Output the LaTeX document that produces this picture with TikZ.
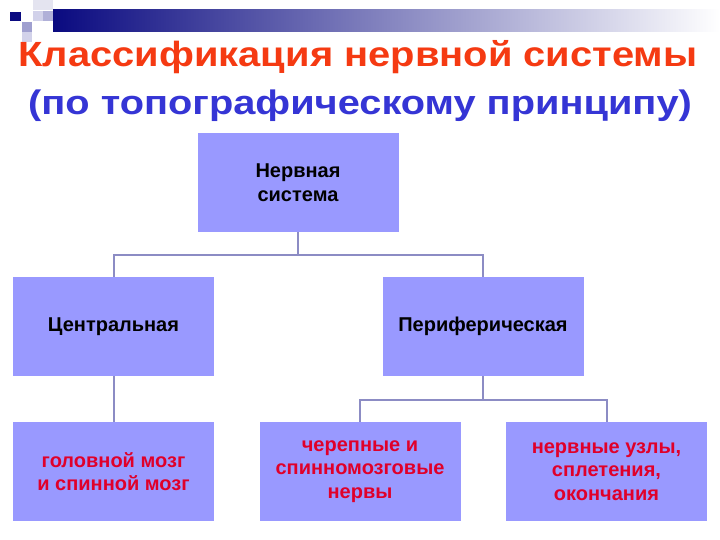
\documentclass[tikz,border=0pt]{standalone}
\usepackage{graphicx}
\usepackage{fontspec}
\setmainfont{Liberation Sans}
\definecolor{boxfill}{HTML}{9999FF}
\definecolor{linec}{HTML}{8C8CC4}
\definecolor{titlered}{HTML}{F53A12}
\definecolor{subblue}{HTML}{3535D5}
\definecolor{txtred}{HTML}{E0002A}
\definecolor{navy}{HTML}{0A0A80}
\definecolor{sqa}{HTML}{E4E4F0}
\definecolor{sqb}{HTML}{D2D2EA}
\definecolor{sqc}{HTML}{B0B0D8}
\definecolor{sqd}{HTML}{A0A0D0}
\tikzset{
  box/.style={fill=boxfill, draw=none, minimum width=201pt, minimum height=99pt,
    align=center, font=\fontsize{20}{23.5}\selectfont\bfseries, inner sep=0pt},
  redtxt/.style={text=txtred},
  conn/.style={draw=linec, line width=2pt},
}
\begin{document}
\begin{tikzpicture}[x=1pt,y=-1pt]
\useasboundingbox[fill=white] (0,0) rectangle (720,540);
% top decoration
\shade[left color=navy, right color=white, shading angle=90] (53,10) rectangle (720,32);
\fill[navy] (10,12) rectangle (21,21);
\fill[sqa] (33,0) rectangle (53,10);
\fill[sqb] (33,11) rectangle (43,21);
\fill[sqc] (43,11) rectangle (53,21);
\fill[sqd] (22,22) rectangle (32,32);
\fill[sqb] (22,32) rectangle (32,42);
% titles
\node[anchor=base, inner sep=0pt, font=\fontsize{35}{40}\selectfont\bfseries, text=titlered] (title) at (358,67) {\scalebox{1.14}[1]{Классификация нервной системы}};
\node[anchor=base, inner sep=0pt, font=\fontsize{34}{38}\selectfont\bfseries, text=subblue] (subtitle) at (360,115) {\scalebox{1.17}[1]{(по топографическому принципу)}};
% boxes
\node[box] (ns) at (298,182.5) {Нервная\\система};
\node[box] (cent) at (113.5,326.5) {Центральная};
\node[box] (per) at (483,326.5) {Периферическая};
\node[box, redtxt] (gm) at (113.5,471.5) {головной мозг\\и спинной мозг};
\node[box, redtxt] (cn) at (360,471.5) {черепные и\\спинномозговые\\нервы};
\node[box, redtxt] (nu) at (606.5,471.5) {нервные узлы,\\сплетения,\\окончания};
% connectors
\coordinate (j1) at (298,255);
\coordinate (j1l) at (113.5,255);
\coordinate (j1r) at (483,255);
\draw[conn] (ns.south) -- (j1);
\draw[conn] (cent.north) -- (j1l) -- (j1r) -- (per.north);
\draw[conn] (cent.south) -- (gm.north);
\coordinate (j2) at (483,400);
\coordinate (j2l) at (360,400);
\coordinate (j2r) at (606.5,400);
\draw[conn] (per.south) -- (j2);
\draw[conn] (cn.north) -- (j2l) -- (j2r) -- (nu.north);
\end{tikzpicture}
\end{document}
